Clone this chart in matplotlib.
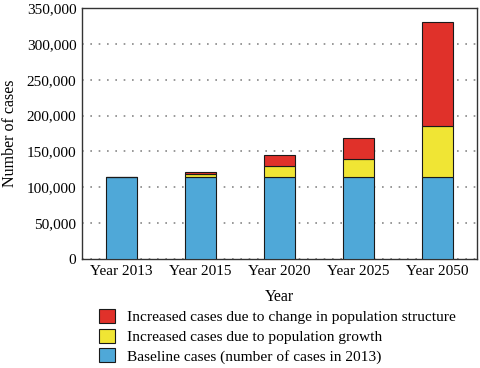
import numpy as np
import matplotlib.pyplot as plt
from matplotlib.ticker import FuncFormatter

plt.rcParams['font.family'] = ['Liberation Serif', 'DejaVu Serif']

years = ['Year 2013', 'Year 2015', 'Year 2020', 'Year 2025', 'Year 2050']
baseline = [114500, 114500, 114500, 114500, 114500]
growth = [0, 3500, 14500, 25000, 71000]
structure = [0, 4000, 15500, 29500, 145500]

labels = ['Increased cases due to change in population structure',
          'Increased cases due to population growth',
          'Baseline cases (number of cases in 2013)']

fig = plt.figure(figsize=(4.8, 3.68), dpi=100)
ax = fig.add_axes([82/480, 1-259/368, 395/480, 251/368])

x = np.arange(len(years))
w = 0.4
b1 = ax.bar(x, baseline, w, color='#4fa8d8', edgecolor='#1a1a1a', linewidth=0.8, zorder=3)
bottom2 = np.array(baseline)
b2 = ax.bar(x, growth, w, bottom=bottom2, color='#f0e534', edgecolor='#1a1a1a', linewidth=0.8, zorder=3)
bottom3 = bottom2 + np.array(growth)
b3 = ax.bar(x, structure, w, bottom=bottom3, color='#e0312a', edgecolor='#1a1a1a', linewidth=0.8, zorder=3)

ax.set_xlim(-0.5, 4.5)
ax.set_ylim(0, 350000)
ax.set_yticks(np.arange(0, 350001, 50000))
ax.yaxis.set_major_formatter(FuncFormatter(lambda v, p: f'{int(v):,}'))
ax.set_xticks(x)
ax.set_xticklabels(years)
ax.tick_params(length=0, labelsize=11, pad=4)
ax.grid(axis='y', linestyle=(0, (1, 4)), color='#888888', linewidth=1.2, zorder=0)
for s in ax.spines.values():
    s.set_color('#333333')
    s.set_linewidth(1.0)

ax.set_xlabel('Year', fontsize=11.5, labelpad=8)
ax.set_ylabel('Number of cases', fontsize=11.5, labelpad=6)

fig.legend([b3, b2, b1], labels, loc='upper left', bbox_to_anchor=(99/480, 1-309/368),
           frameon=False, fontsize=11.1, handlelength=1.05, handleheight=1.05,
           handletextpad=0.75, labelspacing=0.27, borderpad=0, borderaxespad=0)

fig.savefig('out.png', dpi=100)
